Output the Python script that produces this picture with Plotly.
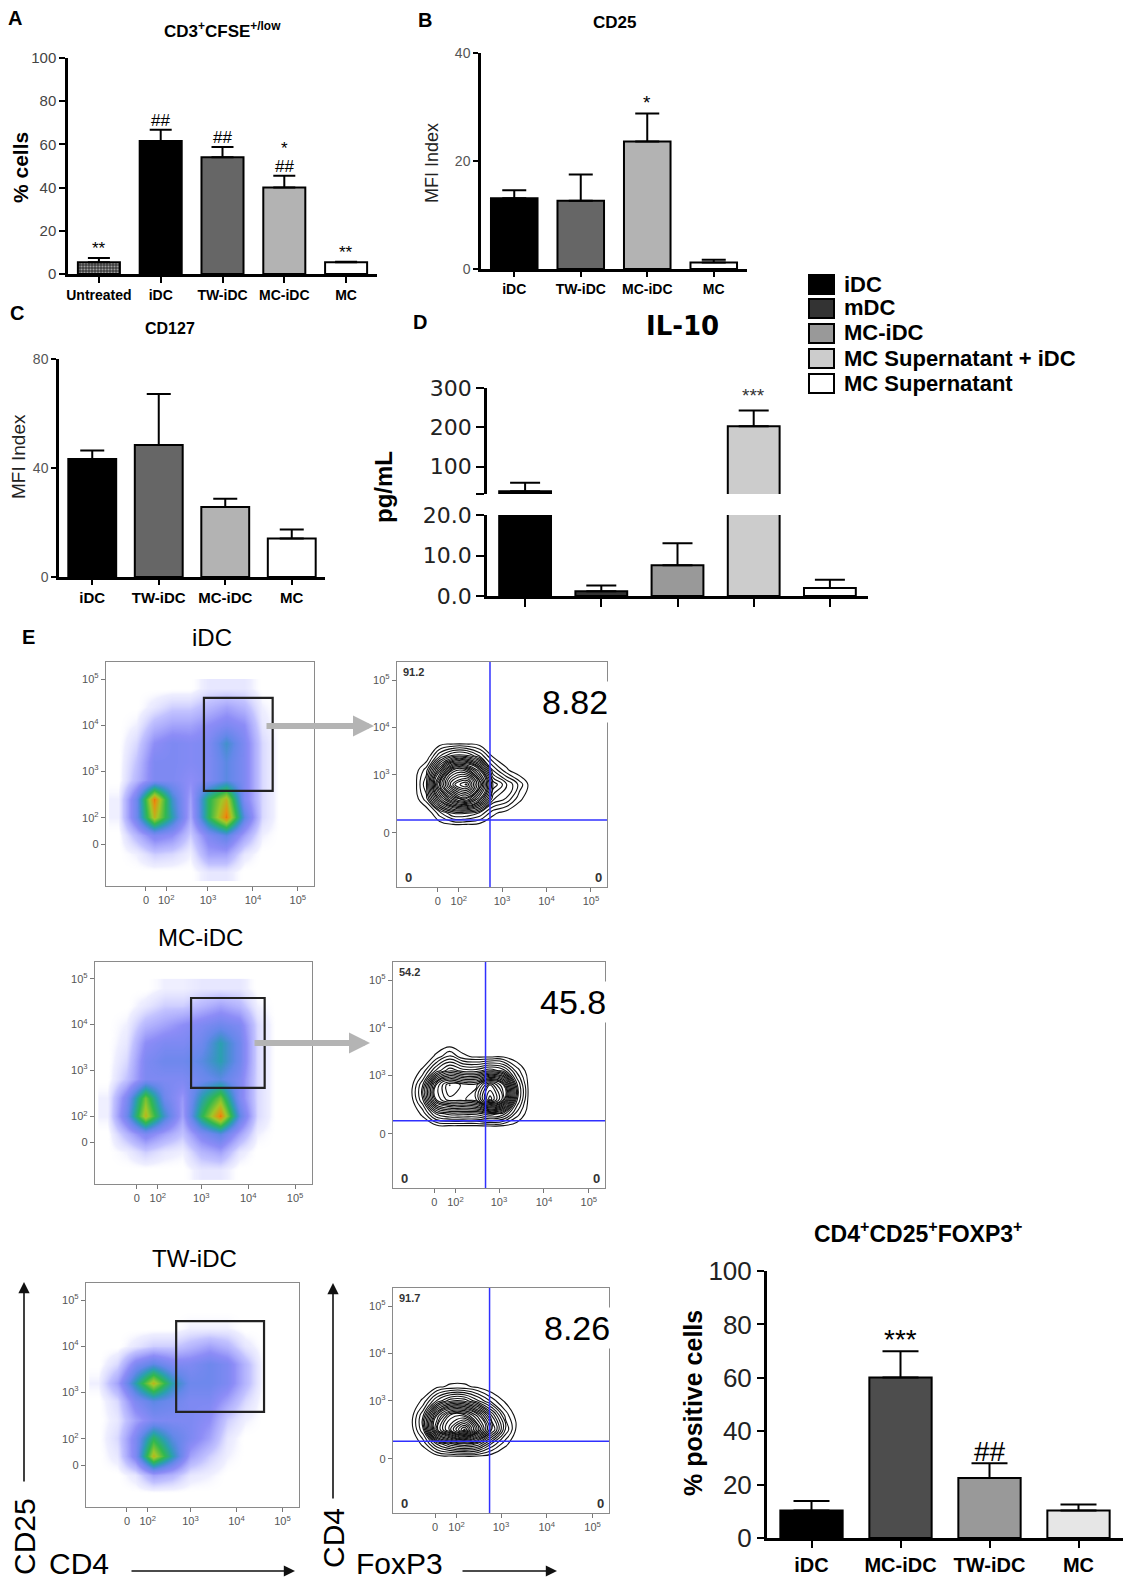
import plotly.graph_objects as go

W, H = 1128, 1584

# ---------------- data ----------------
# Panel A
a_cats = ["Untreated", "iDC", "TW-iDC", "MC-iDC", "MC"]
a_vals = [5.4, 61.6, 54.0, 40.1, 5.4]
a_errs = [2.0, 5.2, 4.8, 5.4, 0.3]
a_colors = ["#3c3c3c", "#000000", "#666666", "#b3b3b3", "#ffffff"]
a_sig = ["**", "##", "##", "##", "**"]
a_sig2 = ["", "", "", "*", ""]

# Panel B
b_cats = ["iDC", "TW-iDC", "MC-iDC", "MC"]
b_vals = [13.1, 12.65, 23.6, 1.2]
b_errs = [1.5, 4.85, 5.2, 0.5]
b_colors = ["#000000", "#666666", "#b3b3b3", "#ffffff"]
b_sig = ["", "", "*", ""]

# Panel C
c_cats = ["iDC", "TW-iDC", "MC-iDC", "MC"]
c_vals = [43.3, 48.4, 25.7, 14.1]
c_errs = [3.1, 18.8, 3.0, 3.3]
c_colors = ["#000000", "#666666", "#b3b3b3", "#ffffff"]

# Panel D (IL-10, broken axis)
d_cats = ["iDC", "mDC", "MC-iDC", "MC Supernatant + iDC", "MC Supernatant"]
d_vals = [37.3, 1.2, 7.6, 202.5, 2.0]
d_errs = [22.0, 1.4, 5.4, 40.5, 2.0]
d_colors = ["#000000", "#333333", "#999999", "#cccccc", "#ffffff"]
d_sig = ["", "", "", "***", ""]
d_break = [0, 20, 30.5, 300]

# Panel F
f_cats = ["iDC", "MC-iDC", "TW-iDC", "MC"]
f_vals = [10.3, 60.1, 22.5, 10.3]
f_errs = [3.6, 9.8, 5.5, 2.2]
f_colors = ["#000000", "#4d4d4d", "#999999", "#e6e6e6"]
f_sig = ["", "***", "##", ""]

# Flow cytometry density grids (display units: 10^3 -> 3, 10^4 -> 4 ...)
dot_x = [1.0, 1.4, 1.8, 2.2, 2.6, 3.0, 3.4, 3.8, 4.2, 4.6]
dot_y = [0.8, 1.2, 1.6, 2.0, 2.4, 2.8, 3.2, 3.6, 4.0, 4.4, 4.8]
dot_idc = [
    [0, 0, 0, 0, 0, 0.5, 0.5, 0, 0, 0],
    [0, 0.3, 1, 0.8, 0.3, 2, 2, 0.5, 0, 0],
    [0, 1.5, 3, 2.5, 1, 3, 4, 2, 0.3, 0],
    [0.3, 3.5, 8, 5, 1.8, 6, 9, 4, 0.8, 0],
    [0.3, 3.5, 9, 4.5, 2, 6, 8, 3, 0.8, 0],
    [0, 1.5, 3, 3, 2.5, 3, 4, 3, 0.8, 0],
    [0, 1.2, 3, 3, 2.8, 3, 4, 3, 0.8, 0],
    [0, 0.8, 2.5, 3, 2.8, 3, 4.5, 3, 0.8, 0],
    [0, 0.3, 1.5, 2, 2, 2.5, 3, 2.5, 0.5, 0],
    [0, 0, 0.5, 1, 1, 1.5, 2, 1.5, 0.3, 0],
    [0, 0, 0, 0, 0, 0.5, 0.5, 0.5, 0, 0],
]
dot_mcidc = [
    [0, 0, 0, 0, 0, 0.5, 0.5, 0, 0, 0],
    [0, 0.3, 1, 0.5, 0.3, 1.5, 2, 0.5, 0, 0],
    [0, 1.5, 3, 2, 1.2, 3, 4, 2, 0.3, 0],
    [0.3, 3.5, 8, 4.5, 2, 6, 9, 4, 0.8, 0],
    [0.3, 3, 7, 3.5, 2.2, 5, 7, 3, 0.8, 0],
    [0, 1.2, 3, 3, 3, 3.5, 4, 3, 0.8, 0],
    [0, 0.8, 3, 3.5, 3.5, 4, 5, 3.5, 0.8, 0],
    [0, 0.5, 2.5, 3, 3, 3.5, 5, 3.5, 0.8, 0],
    [0, 0.3, 1.5, 2, 2.5, 3, 3.5, 3, 0.8, 0],
    [0, 0, 0.5, 1, 1, 1.5, 2, 1.5, 0.3, 0],
    [0, 0, 0, 0.3, 0.3, 0.5, 0.5, 0.5, 0, 0],
]
dot_twidc = [
    [0, 0, 0, 0, 0, 0, 0, 0, 0, 0],
    [0, 0, 0.5, 2, 1.5, 0.5, 0.3, 0, 0, 0],
    [0, 0.5, 3, 8, 5, 2, 1, 0.3, 0, 0],
    [0, 0.8, 3, 6, 4, 3, 2, 0.5, 0, 0],
    [0, 0.5, 2, 3, 3, 3, 2.5, 1, 0.3, 0],
    [0, 0.8, 3, 4, 3.5, 3, 3, 2, 0.8, 0],
    [0.3, 2, 5, 8, 5, 3.5, 3.5, 3, 1.5, 0],
    [0, 0.8, 3, 4, 3, 3, 3.5, 3, 1.5, 0],
    [0, 0, 0.5, 1, 1, 1.5, 2, 1.5, 0.5, 0],
    [0, 0, 0, 0, 0, 0.3, 0.3, 0.3, 0, 0],
    [0, 0, 0, 0, 0, 0, 0, 0, 0, 0],
]
# gates [x0, x1, y0, y1]
gate_idc = [2.91, 4.44, 2.57, 4.59]
gate_mcidc = [2.78, 4.35, 2.61, 4.58]
gate_twidc = [2.69, 4.60, 2.57, 4.54]

con_x = [1.0, 1.3, 1.6, 1.9, 2.2, 2.5, 2.8, 3.1, 3.4, 3.7]
con_y_idc = [1.9, 2.2, 2.5, 2.8, 3.1, 3.4, 3.7]
con_idc = [
    [0, 0, 0, 0, 0, 0, 0, 0, 0, 0],
    [0, 0, 1, 2, 2, 1.5, 0.5, 0.2, 0, 0],
    [0, 1, 4, 6, 7, 5, 2, 1.5, 0.5, 0],
    [0, 1.5, 6, 9, 10, 7, 3, 2, 1, 0],
    [0, 1, 4, 7, 7, 5, 1.5, 0.5, 0, 0],
    [0, 0, 1.5, 2.5, 2.5, 1.5, 0.3, 0, 0, 0],
    [0, 0, 0, 0, 0, 0, 0, 0, 0, 0],
]
con_y_mcidc = [1.9, 2.2, 2.5, 2.8, 3.1, 3.4, 3.7]
con_mcidc = [
    [0, 0, 0, 0, 0, 0, 0, 0, 0, 0],
    [0, 0.5, 2, 2.5, 2.5, 2.5, 3, 2.5, 1, 0],
    [0, 1.5, 5, 6, 6, 6.5, 9, 7, 2, 0],
    [0, 1.5, 5, 6.5, 6, 6, 8, 6.5, 2, 0],
    [0, 0.5, 2, 3, 2.5, 2.5, 3, 2.5, 1, 0],
    [0, 0, 0.5, 1.2, 0.5, 0.3, 0.3, 0.3, 0, 0],
    [0, 0, 0, 0, 0, 0, 0, 0, 0, 0],
]
con_y_twidc = [1.8, 2.1, 2.4, 2.7, 3.0, 3.3, 3.6]
con_twidc = [
    [0, 0, 0, 0, 0, 0, 0, 0, 0, 0],
    [0, 0.5, 2, 3, 3.5, 3, 1.5, 0.5, 0, 0],
    [0, 1.5, 6, 8, 10, 7, 4, 1.5, 0, 0],
    [0, 1.5, 5, 7, 7, 5.5, 3, 1, 0, 0],
    [0, 0.5, 2, 3, 3, 2, 1, 0.3, 0, 0],
    [0, 0, 0.3, 0.5, 0.5, 0.3, 0, 0, 0, 0],
    [0, 0, 0, 0, 0, 0, 0, 0, 0, 0],
]
# quadrant gates [x, y]
quad_idc = [2.73, 2.05]
quad_mcidc = [2.70, 2.05]
quad_twidc = [2.75, 2.15]
q_upper_left = ["91.2", "54.2", "91.7"]
q_upper_right = ["8.82", "45.8", "8.26"]
row_titles = ["iDC", "MC-iDC", "TW-iDC"]

legend_labels = ["iDC", "mDC", "MC-iDC", "MC Supernatant + iDC", "MC Supernatant"]

dot_xticks = [1.62, 2.07, 3, 4, 5]
dot_yticks = [1.41, 1.98, 3, 4, 5]
con_xticks = [1.56, 2.03, 3, 4, 5]
con_yticks = [1.78, 3, 4, 5]
flow_xtext = ["0", "10<sup>2</sup>", "10<sup>3</sup>", "10<sup>4</sup>", "10<sup>5</sup>"]
dot_ytext = ["0", "10<sup>2</sup>", "10<sup>3</sup>", "10<sup>4</sup>", "10<sup>5</sup>"]
con_ytext = ["0", "10<sup>3</sup>", "10<sup>4</sup>", "10<sup>5</sup>"]

# ---------------- helpers ----------------
def fx(px):
    return px / W

def fy(py):
    return 1 - py / H

ARIAL = "Liberation Sans, Arial"
DEJAVU = "DejaVu Sans, Verdana"

fig = go.Figure()
layout = dict(width=W, height=H,
              margin=dict(l=0, r=0, t=0, b=0, pad=0, autoexpand=False),
              paper_bgcolor="white", plot_bgcolor="white", showlegend=False,
              annotations=[], shapes=[])


def ax_names(i):
    return ("x" if i == 1 else f"x{i}", "y" if i == 1 else f"y{i}",
            "xaxis" if i == 1 else f"xaxis{i}", "yaxis" if i == 1 else f"yaxis{i}")


def set_axes(i, xpx, ypx, xopt, yopt):
    xr, yr, xn, yn = ax_names(i)
    xa = dict(domain=[fx(xpx[0]), fx(xpx[1])], anchor=yr, showgrid=False, zeroline=False,
              automargin=False)
    ya = dict(domain=[fy(ypx[1]), fy(ypx[0])], anchor=xr, showgrid=False, zeroline=False,
              automargin=False)
    xa.update(xopt)
    ya.update(yopt)
    layout[xn] = xa
    layout[yn] = ya
    return xr, yr


def text(x, y, s, size, family=ARIAL, color="black", bold=False, angle=0,
         xanchor="center", yanchor="middle", xref="paper", yref="paper", yshift=0, bg=None):
    a = dict(x=x, y=y, text=s, showarrow=False, xref=xref, yref=yref,
             xanchor=xanchor, yanchor=yanchor, textangle=angle, yshift=yshift,
             font=dict(size=size, family=family, color=color,
                       weight="bold" if bold else "normal"))
    if bg:
        a["bgcolor"] = bg
    layout["annotations"].append(a)


def bar_axes_style(tickfont_x, tickfont_y, ticklen=6, lw=2.5):
    xo = dict(showline=True, linecolor="black", linewidth=lw, ticks="outside",
              ticklen=ticklen, tickwidth=2, tickcolor="black", tickfont=tickfont_x,
              type="category", tickangle=0)
    yo = dict(showline=True, linecolor="black", linewidth=lw, ticks="outside",
              ticklen=ticklen, tickwidth=2, tickcolor="black", tickfont=tickfont_y)
    return xo, yo


def bars(xr, yr, cats, vals, errs, colors, width, capw, pattern=None):
    marker = dict(color=colors, line=dict(color="black", width=2))
    if pattern:
        marker["pattern"] = pattern
    fig.add_trace(go.Bar(
        x=cats, y=vals, width=width, marker=marker, xaxis=xr, yaxis=yr,
        error_y=dict(type="data", array=errs, arrayminus=[0] * len(errs),
                     symmetric=False, color="black", thickness=2, width=capw),
        hoverinfo="skip"))


# ---------------- Panel A ----------------
xo, yo = bar_axes_style(dict(family=ARIAL, size=14, color="black", weight="bold"),
                        dict(family=ARIAL, size=15, color="#444"))
xo.update(range=[-0.5, 4.5])
yo.update(range=[0, 100], tickvals=[0, 20, 40, 60, 80, 100])
xr, yr = set_axes(1, (68, 377), (58, 274), xo, yo)
bars(xr, yr, a_cats, a_vals, a_errs, a_colors, 0.68, 11,
     pattern=dict(shape=[".", "", "", "", ""], fgcolor="#000000", size=3,
                  solidity=0.4, fillmode="overlay"))
for c, v, e, s, s2 in zip(a_cats, a_vals, a_errs, a_sig, a_sig2):
    text(c, v + e, s, 17, xref=xr, yref=yr, yanchor="bottom", yshift=-2)
    if s2:
        text(c, v + e, s2, 17, xref=xr, yref=yr, yanchor="bottom", yshift=16)
text(fx(15), fy(18), "A", 20, bold=True)
text(fx(222), fy(30), "CD3<sup>+</sup>CFSE<sup>+/low</sup>", 17, bold=True)
text(fx(20), fy(168), "% cells", 21, bold=True, angle=-90)

# ---------------- Panel B ----------------
xo, yo = bar_axes_style(dict(family=ARIAL, size=14, color="black", weight="bold"),
                        dict(family=ARIAL, size=14, color="#555"), ticklen=5)
xo.update(range=[-0.5, 3.5])
yo.update(range=[0, 40], tickvals=[0, 20, 40])
xr, yr = set_axes(2, (481, 747), (53, 269), xo, yo)
bars(xr, yr, b_cats, b_vals, b_errs, b_colors, 0.7, 12)
for c, v, e, s in zip(b_cats, b_vals, b_errs, b_sig):
    if s:
        text(c, v + e, s, 19, xref=xr, yref=yr, yanchor="bottom", yshift=-2)
text(fx(425), fy(20), "B", 20, bold=True)
text(fx(614), fy(23), "CD25", 17, bold=True)
text(fx(432), fy(163), "MFI Index", 18, angle=-90, color="#222")

# ---------------- Panel C ----------------
xo, yo = bar_axes_style(dict(family=ARIAL, size=15, color="black", weight="bold"),
                        dict(family=ARIAL, size=14, color="#555"), ticklen=5)
xo.update(range=[-0.5, 3.5])
yo.update(range=[0, 80], tickvals=[0, 40, 80])
xr, yr = set_axes(3, (59, 325), (359, 577), xo, yo)
bars(xr, yr, c_cats, c_vals, c_errs, c_colors, 0.72, 12)
text(fx(17), fy(313), "C", 20, bold=True)
text(fx(170), fy(328), "CD127", 16, bold=True)
text(fx(18), fy(457), "MFI Index", 19, angle=-90, color="#222")

# ---------------- Panel D (broken axis) ----------------
low_errs = [e if v < d_break[1] else float("nan") for v, e in zip(d_vals, d_errs)]
up_errs = [e if v >= d_break[1] else float("nan") for v, e in zip(d_vals, d_errs)]
xo, yo = bar_axes_style(dict(size=10), dict(family=DEJAVU, size=22, color="#222"), ticklen=8)
xo.update(range=[-0.5, 4.5], showticklabels=False)
yo.update(range=[d_break[0], d_break[1]], tickvals=[0, 10, 20],
          ticktext=["0.0", "10.0", "20.0"])
xr4, yr4 = set_axes(4, (487, 868), (515, 596), xo, yo)
xo2 = dict(type="category", range=[-0.5, 4.5], visible=False)
yo2 = dict(range=[d_break[2], d_break[3]], showline=True, linecolor="black", linewidth=2.5,
           ticks="outside", ticklen=8, tickwidth=2, tickcolor="black",
           tickvals=[d_break[2], 100, 200, 300], ticktext=["", "100", "200", "300"],
           tickfont=dict(family=DEJAVU, size=22, color="#222"))
xr5, yr5 = set_axes(5, (487, 868), (388, 494), xo2, yo2)
bars(xr4, yr4, d_cats, d_vals, low_errs, d_colors, 0.68, 15)
bars(xr5, yr5, d_cats, d_vals, up_errs, d_colors, 0.68, 15)
for c, v, e, s in zip(d_cats, d_vals, d_errs, d_sig):
    if s:
        text(c, v + e, s, 19, color="#333", xref=xr5, yref=yr5,
             yanchor="bottom", yshift=2)
text(fx(420), fy(322), "D", 20, bold=True)
text(fx(682), fy(326), "IL-10", 26, family=DEJAVU, bold=True)
text(fx(383), fy(487), "pg/mL", 24, bold=True, angle=-90)

# legend for D
leg_rows = [284, 308, 333, 358, 383]
for lab, col, ry in zip(legend_labels, d_colors, leg_rows):
    layout["shapes"].append(dict(type="rect", xref="paper", yref="paper",
                                 x0=fx(809), x1=fx(834), y0=fy(ry + 10), y1=fy(ry - 9),
                                 fillcolor=col, line=dict(color="black", width=2)))
    text(fx(842), fy(ry), lab, 22, bold=True, xanchor="left")

# ---------------- Panel E (flow cytometry) ----------------
flow_scale = [[0.0, "rgba(255,255,255,0)"], [0.03, "rgba(180,180,255,0.22)"],
              [0.12, "rgba(100,100,255,0.40)"], [0.25, "rgba(50,50,240,0.56)"],
              [0.38, "rgba(40,90,225,0.72)"], [0.5, "#2aa0b0"], [0.62, "#30b850"],
              [0.75, "#a0c828"], [0.87, "#e89010"], [1.0, "#e01800"]]

def flow_axes(xt, yt, ytext):
    base = dict(showline=True, mirror=True, linecolor="#8a8a8a", linewidth=1.3,
                ticks="outside", ticklen=4, tickcolor="#777", tickwidth=1,
                tickfont=dict(family=ARIAL, size=11, color="#555"))
    xo = dict(base, tickvals=xt, ticktext=flow_xtext)
    yo = dict(base, tickvals=yt, ticktext=ytext)
    return xo, yo

dot_frames = [((106, 314), (662, 886)), ((95, 312), (962, 1184)), ((86, 299), (1283, 1507))]
con_frames = [((397, 607), (662, 887)), ((393, 605), (962, 1188)), ((393, 609), (1288, 1513))]
dot_grids = [dot_idc, dot_mcidc, dot_twidc]
gates = [gate_idc, gate_mcidc, gate_twidc]
con_ys = [con_y_idc, con_y_mcidc, con_y_twidc]
con_grids = [con_idc, con_mcidc, con_twidc]
quads = [quad_idc, quad_mcidc, quad_twidc]
title_pos = [(212, 637), (200, 937), (194, 1258)]
arrows = [(265, 374, 726), (253, 370, 1043), None]

for k in range(3):
    # dot plot
    xo, yo = flow_axes(dot_xticks, dot_yticks, dot_ytext)
    xo.update(range=[0.73, 5.36])
    yo.update(range=[0.5, 5.37])
    xr, yr = set_axes(6 + 2 * k, dot_frames[k][0], dot_frames[k][1], xo, yo)
    fig.add_trace(go.Heatmap(x=dot_x, y=dot_y, z=dot_grids[k], zsmooth="best",
                             colorscale=flow_scale, zmin=0, zmax=10, showscale=False,
                             xaxis=xr, yaxis=yr, hoverinfo="skip"))
    g = gates[k]
    layout["shapes"].append(dict(type="rect", xref=xr, yref=yr, x0=g[0], x1=g[1],
                                 y0=g[2], y1=g[3], line=dict(color="#222", width=2.2)))
    # contour plot
    xo, yo = flow_axes(con_xticks, con_yticks, con_ytext)
    xo.update(range=[0.64, 5.36])
    yo.update(range=[0.64, 5.38])
    xr2, yr2 = set_axes(7 + 2 * k, con_frames[k][0], con_frames[k][1], xo, yo)
    fig.add_trace(go.Contour(x=con_x, y=con_ys[k], z=con_grids[k],
                             contours=dict(start=0.4, end=10, size=0.38, coloring="lines"),
                             line=dict(width=1.1, smoothing=1.3),
                             colorscale=[[0, "#111"], [1, "#111"]], showscale=False,
                             xaxis=xr2, yaxis=yr2, hoverinfo="skip"))
    q = quads[k]
    layout["shapes"].append(dict(type="line", xref=xr2, yref=yr2 + " domain", x0=q[0], x1=q[0],
                                 y0=0, y1=1, line=dict(color="#3030ff", width=1.5)))
    layout["shapes"].append(dict(type="line", xref=xr2 + " domain", yref=yr2, x0=0, x1=1,
                                 y0=q[1], y1=q[1], line=dict(color="#3030ff", width=1.5)))
    (cx0, cx1), (cy0, cy1) = con_frames[k]
    text(fx(cx0 + 4), fy(cy0 + 10), q_upper_left[k], 11, bold=True, color="#333", xanchor="left")
    text(fx(cx1 + 3), fy(cy0 + 40), q_upper_right[k], 34, xanchor="right", bg="white")
    text(fx(cx0 + 6), fy(cy1 - 10), "0", 13, bold=True, color="#333", xanchor="left")
    text(fx(cx1 - 3), fy(cy1 - 10), "0", 13, bold=True, color="#333", xanchor="right")
    text(fx(title_pos[k][0]), fy(title_pos[k][1]), row_titles[k], 24)
    if arrows[k]:
        x0, x1, ay = arrows[k]
        layout["annotations"].append(dict(
            x=fx(x1), y=fy(ay), ax=x0 - x1, ay=0, xref="paper", yref="paper",
            axref="pixel", ayref="pixel", showarrow=True, arrowhead=2, arrowsize=0.7,
            arrowwidth=6, arrowcolor="#b4b4b4", text=""))

text(fx(28), fy(637), "E", 20, bold=True)

# axis direction labels
text(fx(24), fy(1537), "CD25", 30, angle=-90)
text(fx(79), fy(1563), "CD4", 30)
text(fx(333), fy(1538), "CD4", 30, angle=-90)
text(fx(399), fy(1563), "FoxP3", 30)
for (hx, hy, dx, dy) in [(24, 1282, 0, 201), (333, 1283, 0, 217),
                          (295, 1571, -165, 0), (557, 1571, -96, 0)]:
    layout["annotations"].append(dict(
        x=fx(hx), y=fy(hy), ax=dx, ay=dy, xref="paper", yref="paper",
        axref="pixel", ayref="pixel", showarrow=True, arrowhead=2, arrowsize=1.4,
        arrowwidth=1.6, arrowcolor="#111", text=""))

# ---------------- Panel F ----------------
xo, yo = bar_axes_style(dict(family=ARIAL, size=20, color="black", weight="bold"),
                        dict(family=ARIAL, size=26, color="#222"), ticklen=7, lw=3)
xo.update(range=[-0.5, 3.5])
yo.update(range=[0, 100], tickvals=[0, 20, 40, 60, 80, 100])
xr, yr = set_axes(12, (767, 1123), (1271, 1538), xo, yo)
bars(xr, yr, f_cats, f_vals, f_errs, f_colors, 0.7, 18)
for c, v, e, s in zip(f_cats, f_vals, f_errs, f_sig):
    if s:
        text(c, v + e, s, 28, family=ARIAL, xref=xr, yref=yr, yanchor="bottom", yshift=-6)
text(fx(918), fy(1232), "CD4<sup>+</sup>CD25<sup>+</sup>FOXP3<sup>+</sup>", 23, bold=True)
text(fx(693), fy(1403), "% positive cells", 25, bold=True, angle=-90)

fig.update_layout(**layout)
fig.write_html(
    "out.html",
    config={"displayModeBar": False},
    post_script=("document.body.style.margin='0';document.body.style.padding='0';"
                 "document.documentElement.style.overflow='hidden';"),
)
